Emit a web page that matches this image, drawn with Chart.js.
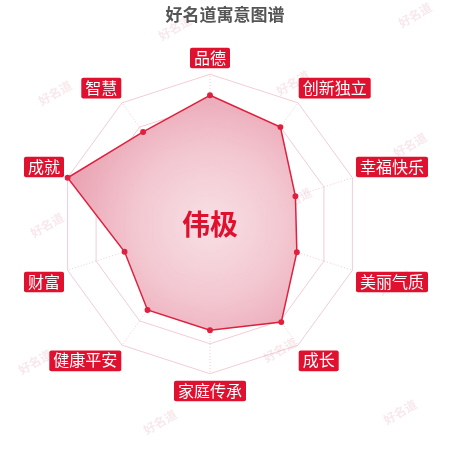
<!DOCTYPE html>
<html>
<head>
<meta charset="utf-8">
<script src="https://cdn.jsdelivr.net/npm/chart.js@4"></script>
<style>
  html, body { margin: 0; padding: 0; background: #fff; }
  #wrap { position: relative; width: 450px; height: 450px; }
</style>
</head>
<body>
<div id="wrap"><canvas id="chart" width="450" height="450"></canvas></div>
<script>
const title = '好名道寓意图谱';
const name = '伟极';
const labels = ['品德', '创新独立', '幸福快乐', '美丽气质', '成长', '家庭传承', '健康平安', '财富', '成就', '智慧'];
const values = [86, 80, 60, 61, 81, 71, 71, 60, 100, 76];

// faint watermark spots
const marks = [[175, 28], [55, 93], [293, 83], [415, 15], [410, 145], [47, 225], [295, 200],
  [395, 283], [35, 362], [280, 350], [160, 422], [400, 412]];

const watermark = {
  id: 'watermark',
  beforeDraw(chart) {
    const c = chart.ctx;
    c.save();
    c.fillStyle = 'rgba(225, 150, 165, 0.22)';
    c.font = 'bold 12px "Noto Sans CJK SC"';
    c.textAlign = 'center';
    c.textBaseline = 'middle';
    marks.forEach(m => {
      c.save();
      c.translate(m[0], m[1]);
      c.rotate(-Math.PI / 6);
      c.fillText('好名道', 0, 0);
      c.restore();
    });
    c.restore();
  }
};

const centerText = {
  id: 'centerText',
  afterDatasetsDraw(chart) {
    const r = chart.scales.r;
    const c = chart.ctx;
    c.save();
    c.fillStyle = '#e0102f';
    c.font = 'bold 28px "Noto Sans CJK SC"';
    c.textAlign = 'center';
    c.textBaseline = 'middle';
    c.fillText(name, r.xCenter, r.yCenter);
    c.restore();
  }
};

function radialFill(context) {
  const chart = context.chart;
  const r = chart.scales.r;
  if (!r || !r.drawingArea) return 'rgba(234,160,176,0.9)';
  const g = chart.ctx.createRadialGradient(r.xCenter, r.yCenter, 0, r.xCenter, r.yCenter, r.drawingArea);
  g.addColorStop(0, 'rgba(248, 222, 228, 0.95)');
  g.addColorStop(0.5, 'rgba(242, 196, 206, 0.95)');
  g.addColorStop(1, 'rgba(232, 155, 172, 0.95)');
  return g;
}

new Chart(document.getElementById('chart'), {
  type: 'radar',
  data: {
    labels: labels,
    datasets: [{
      data: values,
      backgroundColor: radialFill,
      borderColor: '#e0203f',
      borderWidth: 1.5,
      pointBackgroundColor: '#e0203f',
      pointBorderColor: '#e0203f',
      pointRadius: 2.2
    }]
  },
  options: {
    responsive: false,
    animation: false,
    layout: { padding: { top: 4, bottom: 47, left: 11, right: 11 } },
    plugins: {
      legend: { display: false },
      tooltip: { enabled: false },
      title: {
        display: true,
        text: title,
        color: '#555',
        font: { family: 'Noto Sans CJK SC', size: 17, weight: 'bold' },
        padding: { top: 0, bottom: 22 }
      }
    },
    scales: {
      r: {
        min: 0,
        max: 100,
        ticks: { display: false, stepSize: 20 },
        grid: { color: 'rgba(235, 170, 185, 0.6)', borderDash: [1, 2], lineWidth: 1 },
        angleLines: { color: 'rgba(235, 170, 185, 0.6)', borderDash: [1, 2] },
        pointLabels: {
          color: '#fff',
          backdropColor: '#e0102f',
          backdropPadding: { top: 1, bottom: 2, left: 4, right: 4 },
          borderRadius: 2,
          padding: 8,
          font: { family: 'Noto Sans CJK SC', size: 16, lineHeight: 1.1 }
        }
      }
    }
  },
  plugins: [watermark, centerText]
});
</script>
</body>
</html>
